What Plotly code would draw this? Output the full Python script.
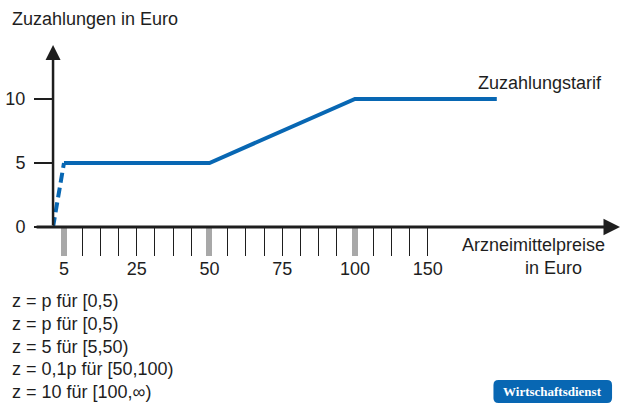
import numpy as np
import plotly.graph_objects as go

# ---------------- data ----------------
price = [0, 5, 50, 100, 200]          # Arzneimittelpreise in Euro
zuzahlung = [0, 5, 5, 10, 10]         # Zuzahlung in Euro
dashed_until_price = 5
series_name = "Zuzahlungstarif"

y_tick_vals = [0, 5, 10]
x_tick_prices = [5, 25, 50, 75, 100, 150]
x_tick_labels = ["5", "25", "50", "75", "100", "150"]
grey_tick_prices = [5, 50, 100]

y_title = "Zuzahlungen in Euro"
x_title_lines = ["Arzneimittelpreise", "in Euro"]
formulas = [
    "z = p für [0,5)",
    "z = p für [0,5)",
    "z = 5 für [5,50)",
    "z = 0,1p für [50,100)",
    "z = 10 für [100,∞)",
]
source = "Wirtschaftsdienst"

# ---------------- schematic x scale (price -> tick index) ----------------
scale_price = [0, 5, 25, 50, 75, 100, 150, 200]
scale_pos = [-0.6, 0, 4, 8, 12, 16, 20, 23.8]


def sx(p):
    return np.interp(p, scale_price, scale_pos)


W, H = 630, 418
L, R, T, B = 51, 5, 45, 191
PX_PER_POS = 18.25
PX_PER_Z = 12.8
x_left = (L - 62) / PX_PER_POS
xr = [x_left, x_left + (W - L - R) / PX_PER_POS]
yr = [0, (H - T - B) / PX_PER_Z]


def xp(px):
    return (px - L) / (W - L - R)


def yp(py):
    return (H - B - py) / (H - T - B)


def pos_of_px(px):
    return (px - 62) / PX_PER_POS


BLUE = "#0867b3"
INK = "#1e1e1e"
FONT = "Liberation Sans, Arial, sans-serif"
FS = 18

n_dash = price.index(dashed_until_price) + 1
fig = go.Figure()
fig.add_trace(go.Scatter(
    x=sx(price[:n_dash]), y=zuzahlung[:n_dash], mode="lines",
    line=dict(color=BLUE, width=4, dash="10px,5px"),
    cliponaxis=False, showlegend=False, hoverinfo="skip"))
fig.add_trace(go.Scatter(
    x=sx(price[n_dash - 1:]), y=zuzahlung[n_dash - 1:], mode="lines",
    line=dict(color=BLUE, width=4),
    cliponaxis=False, showlegend=False, name=series_name))
fig.add_trace(go.Scatter(x=[xr[0]], y=[0], xaxis="x2", mode="markers",
                         marker=dict(opacity=0), showlegend=False, hoverinfo="skip"))

major_pos = list(sx(grey_tick_prices))
minor_pos = [i for i in range(1, int(sx(150)) + 1) if i not in [round(m) for m in major_pos]]

fig.update_layout(
    width=W, height=H, autosize=False,
    margin=dict(l=L, r=R, t=T, b=B, pad=0),
    paper_bgcolor="white", plot_bgcolor="white",
    font=dict(family=FONT, size=FS, color=INK),
    xaxis=dict(range=xr, showgrid=False, zeroline=False, showline=False,
               ticks="outside", tickvals=major_pos, ticklen=28, tickwidth=5.5,
               tickcolor="#a8a8a8", showticklabels=False,
               minor=dict(tickvals=minor_pos, ticks="outside", ticklen=28,
                          tickwidth=1, tickcolor=INK, showgrid=False)),
    xaxis2=dict(range=xr, overlaying="x", anchor="y", side="bottom",
                showgrid=False, zeroline=False, showline=False, ticks="",
                tickvals=list(sx(x_tick_prices)), ticktext=x_tick_labels,
                tickfont=dict(size=FS, color=INK), ticklabelstandoff=29),
    yaxis=dict(range=yr, showgrid=False, zeroline=False, showline=False,
               ticks="outside", tickvals=y_tick_vals, ticklen=18, tickwidth=1.6,
               tickcolor=INK, tickfont=dict(size=FS, color=INK),
               ticklabelstandoff=5),
)

# axis lines with arrows
fig.add_annotation(x=pos_of_px(620), y=0, ax=pos_of_px(33), ay=0,
                   xref="x", yref="y", axref="x", ayref="y", text="",
                   showarrow=True, arrowhead=2, arrowsize=1.1, arrowwidth=3,
                   arrowcolor=INK)
fig.add_annotation(x=sx(0), y=yr[1], ax=sx(0), ay=0,
                   xref="x", yref="y", axref="x", ayref="y", text="",
                   showarrow=True, arrowhead=2, arrowsize=1.2, arrowwidth=2.5,
                   arrowcolor=INK)

# texts
fig.add_annotation(x=xp(8), y=yp(19), xref="paper", yref="paper", text=y_title,
                   showarrow=False, xanchor="left", yanchor="middle",
                   font=dict(size=FS, color=INK))
fig.add_annotation(x=xp(475), y=yp(83), xref="paper", yref="paper", text=series_name,
                   showarrow=False, xanchor="left", yanchor="middle",
                   font=dict(size=FS, color=INK))
fig.add_annotation(x=xp(533), y=yp(245), xref="paper", yref="paper", text=x_title_lines[0],
                   showarrow=False, xanchor="center", yanchor="middle",
                   font=dict(size=FS, color=INK))
fig.add_annotation(x=xp(553), y=yp(268), xref="paper", yref="paper", text=x_title_lines[1],
                   showarrow=False, xanchor="center", yanchor="middle",
                   font=dict(size=FS, color=INK))
for i, f in enumerate(formulas):
    fig.add_annotation(x=xp(8), y=yp(301 + 22.75 * i), xref="paper", yref="paper",
                       text=f, showarrow=False, xanchor="left", yanchor="middle",
                       font=dict(size=FS, color=INK))

# badge
bx0, by0, bx1, by1, r = 493, 380, 612, 403, 5
pts = (f"M {xp(bx0 + r)},{yp(by0)} L {xp(bx1 - r)},{yp(by0)} "
       f"Q {xp(bx1)},{yp(by0)} {xp(bx1)},{yp(by0 + r)} L {xp(bx1)},{yp(by1 - r)} "
       f"Q {xp(bx1)},{yp(by1)} {xp(bx1 - r)},{yp(by1)} L {xp(bx0 + r)},{yp(by1)} "
       f"Q {xp(bx0)},{yp(by1)} {xp(bx0)},{yp(by1 - r)} L {xp(bx0)},{yp(by0 + r)} "
       f"Q {xp(bx0)},{yp(by0)} {xp(bx0 + r)},{yp(by0)} Z")
fig.add_shape(type="path", path=pts, xref="paper", yref="paper",
              fillcolor=BLUE, line=dict(width=0))
fig.add_annotation(x=xp((bx0 + bx1) / 2), y=yp((by0 + by1) / 2), xref="paper", yref="paper",
                   text=source, showarrow=False, xanchor="center", yanchor="middle",
                   font=dict(family="Liberation Serif, serif", size=13, color="white",
                             weight="bold"))

fig.write_html("out.html")
